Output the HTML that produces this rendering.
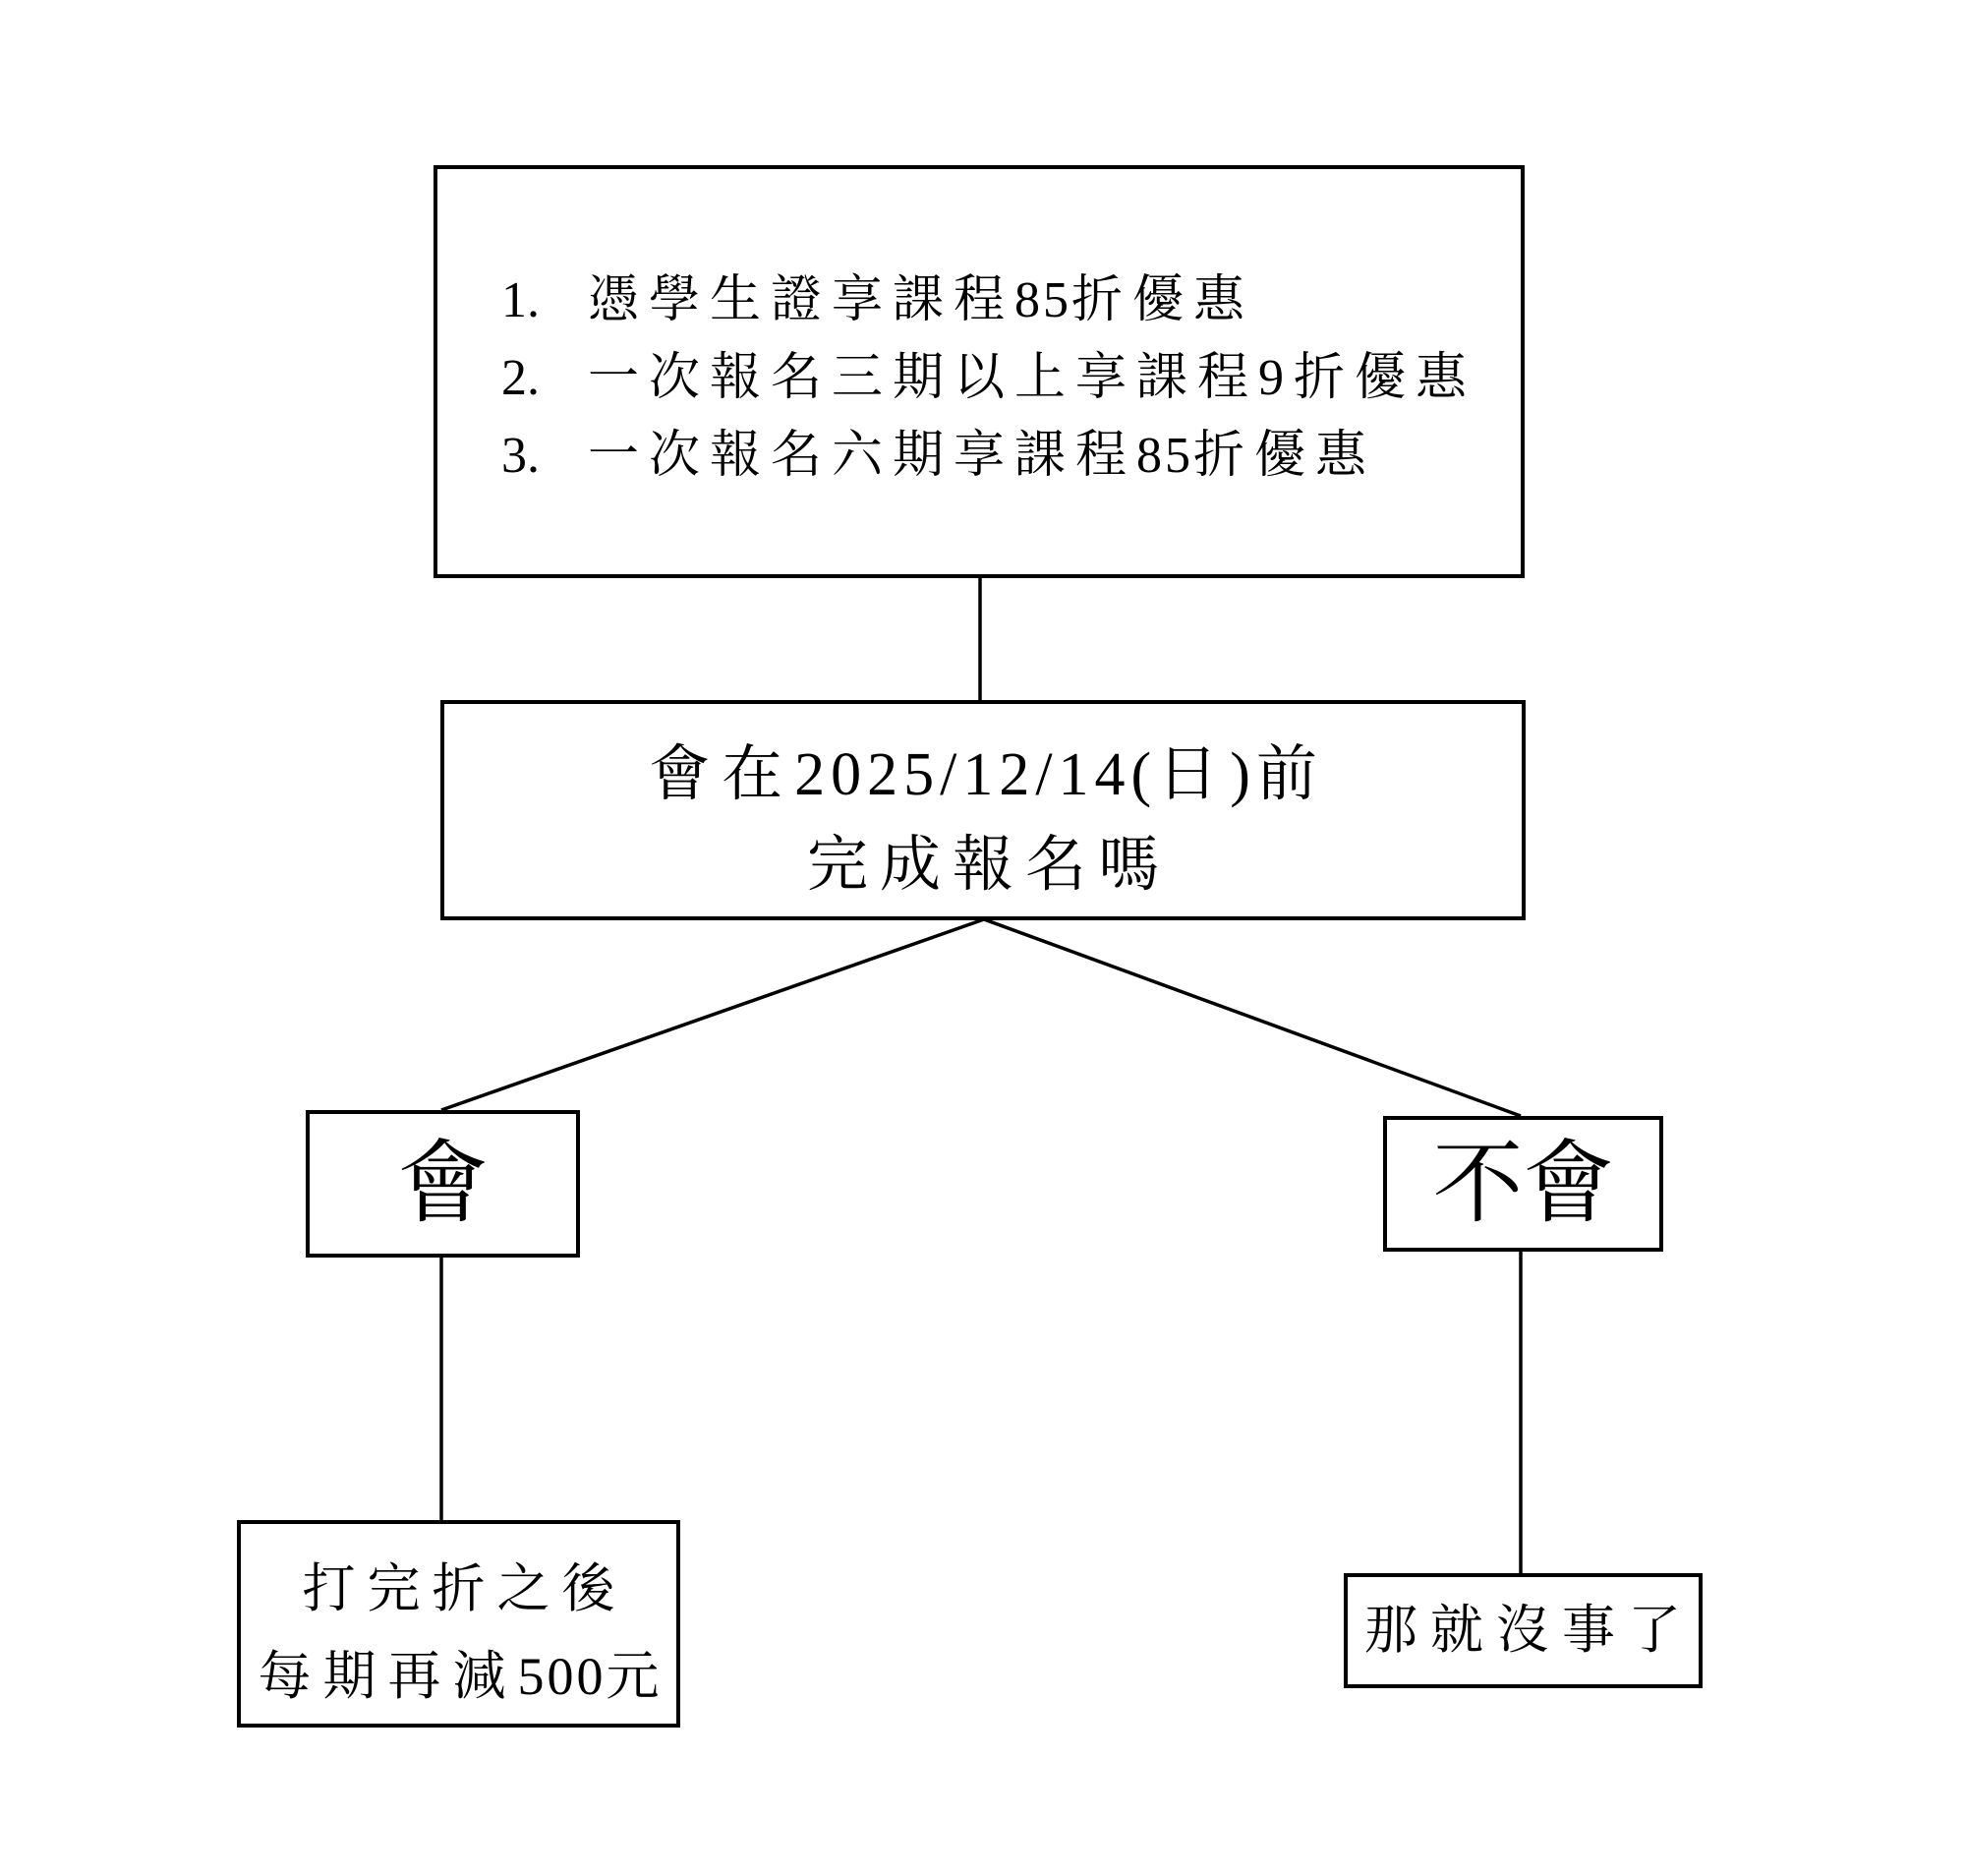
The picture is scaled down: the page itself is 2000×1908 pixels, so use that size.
<!DOCTYPE html>
<html><head><meta charset="utf-8"><style>
body{margin:0;background:#fff;}
.c{position:relative;width:2000px;height:1908px;overflow:hidden;background:#fff;font-family:"Liberation Serif","Noto Serif CJK SC",serif;color:#000;}
.b{position:absolute;border:4px solid #000;box-sizing:border-box;}
.t{position:absolute;white-space:nowrap;line-height:1;}
.n{letter-spacing:3px;}
.m{letter-spacing:6px;}
</style></head><body><div class="c">
<svg width="2000" height="1908" style="position:absolute;left:0;top:0">
<g stroke="#000" stroke-width="3.5" fill="none">
<line x1="997" y1="587" x2="997" y2="712"/>
<line x1="1001" y1="935" x2="449" y2="1129"/>
<line x1="1001" y1="935" x2="1547" y2="1135"/>
<line x1="449" y1="1278" x2="449" y2="1546"/>
<line x1="1547" y1="1272" x2="1547" y2="1600"/>
</g></svg>
<div class="b" style="left:441px;top:168px;width:1110px;height:420px"></div>
<div class="t" style="left:510px;top:266px;font-size:52px;line-height:79px">1.<br>2.<br>3.</div>
<div class="t" style="left:598px;top:266px;font-size:52px;line-height:79px;letter-spacing:10px">憑學生證享課程<span class="n">85</span>折優惠<br>一次報名三期以上享課程9折優惠<br>一次報名六期享課程<span class="n">85</span>折優惠</div>
<div class="b" style="left:448px;top:712px;width:1104px;height:224px"></div>
<div class="t" style="left:454px;width:1104px;top:742px;font-size:62px;line-height:92px;text-align:center;letter-spacing:12px">會在<span class="m">2025/12/14(</span>日<span class="m">)</span>前<br>完成報名嗎</div>
<div class="b" style="left:311px;top:1129px;width:279px;height:150px"></div>
<div class="t" style="left:311px;width:279px;top:1158px;font-size:92px;text-align:center">會</div>
<div class="b" style="left:1407px;top:1135px;width:285px;height:138px"></div>
<div class="t" style="left:1407px;width:285px;top:1158px;font-size:92px;text-align:center">不會</div>
<div class="b" style="left:241px;top:1546px;width:451px;height:211px"></div>
<div class="t" style="left:247px;width:451px;top:1572px;font-size:54px;line-height:89px;text-align:center;letter-spacing:12px">打完折之後<br>每期再減<span class="n">500</span>元</div>
<div class="b" style="left:1367px;top:1600px;width:365px;height:117px"></div>
<div class="t" style="left:1373px;width:365px;top:1631px;font-size:54px;text-align:center;letter-spacing:13px">那就沒事了</div>
</div></body></html>
